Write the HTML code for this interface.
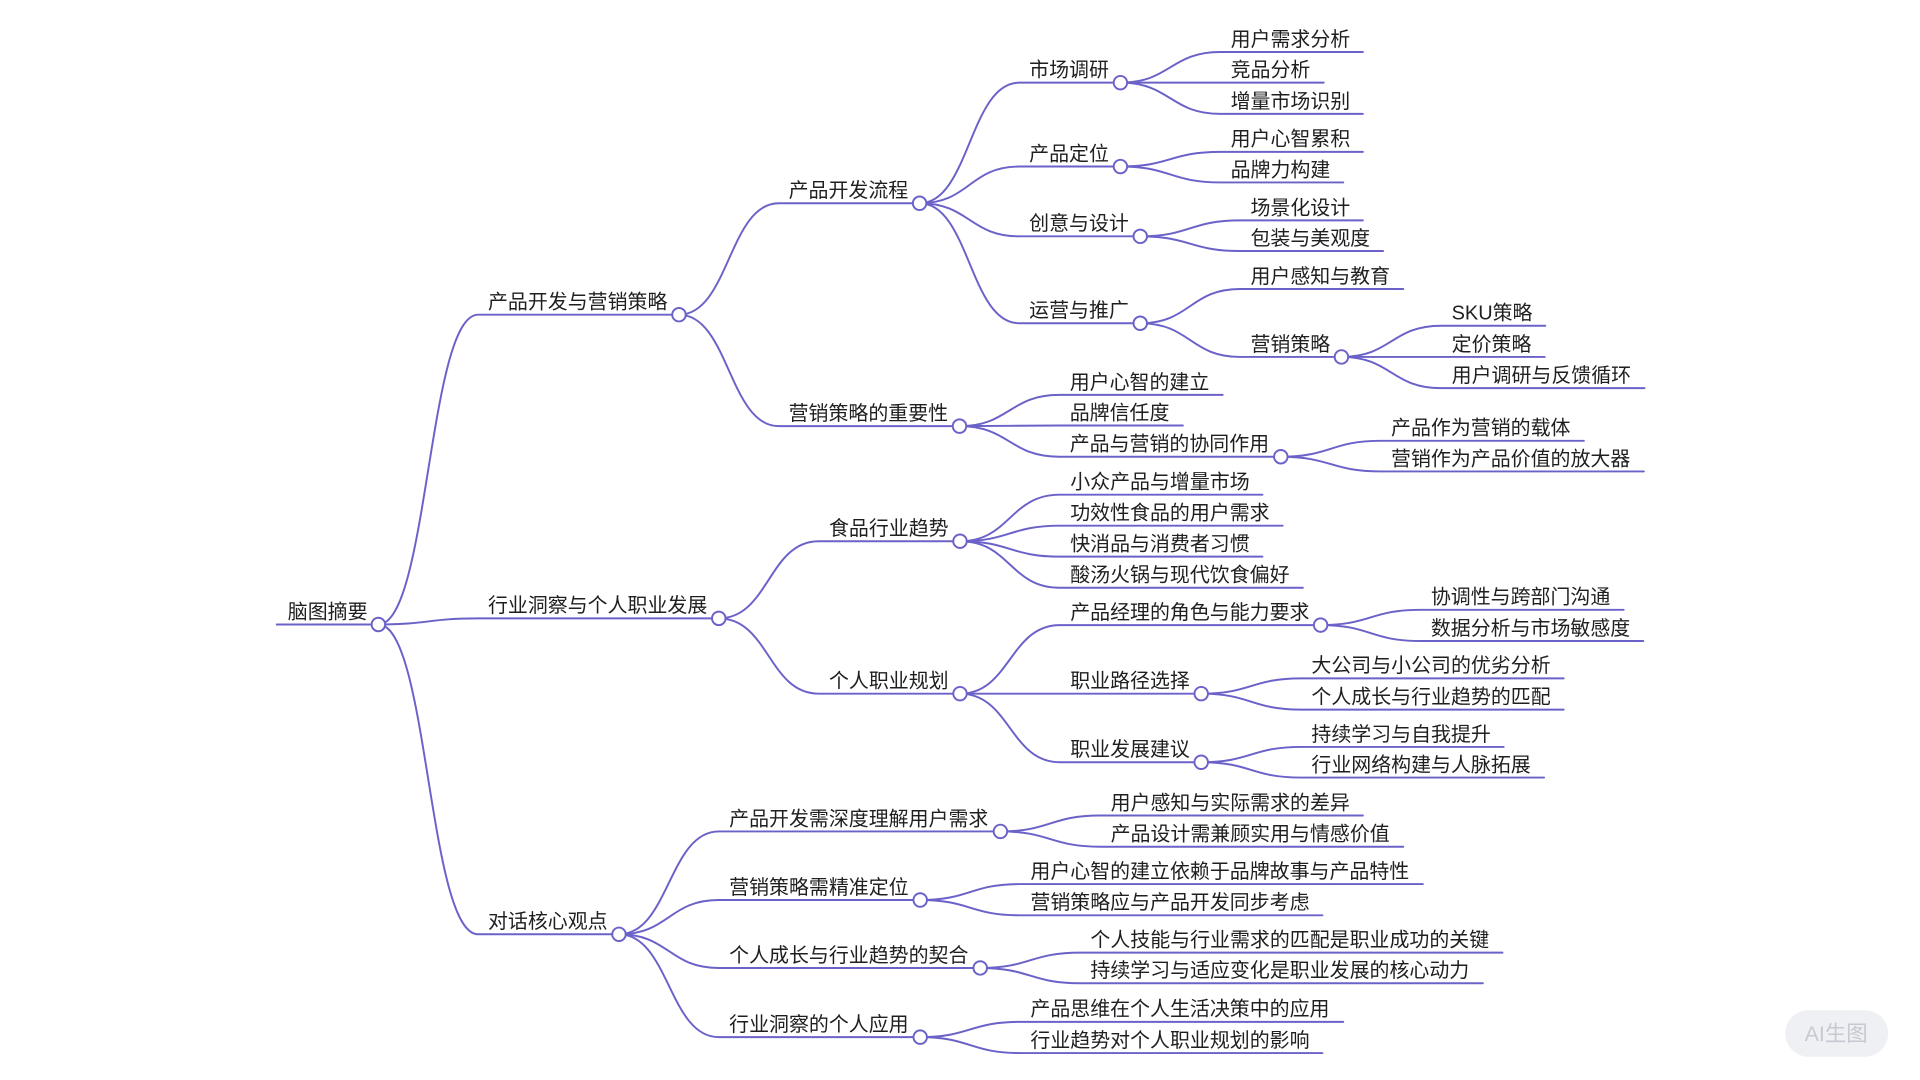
<!DOCTYPE html>
<html><head><meta charset="utf-8"><style>
html,body{margin:0;padding:0;background:#fff;width:1920px;height:1080px;overflow:hidden}
svg{display:block}
text{font-family:"Liberation Sans","Noto Sans CJK SC",sans-serif;font-size:16.3px;fill:#1f1f1f}
path{fill:none;stroke:#6b62c9;stroke-width:1.6;stroke-linecap:round}
circle{fill:#fff;stroke:#6b62c9;stroke-width:1.6}
</style></head><body>
<svg width="1920" height="1080" viewBox="0 0 1568 882" preserveAspectRatio="none" xmlns="http://www.w3.org/2000/svg">
<g>
<path d="M226,510 H309"/>
<path d="M309,510 C349.75,510 349.75,257 390.5,257 H554.5"/>
<path d="M309,510 C349.75,510 349.75,505 390.5,505 H587"/>
<path d="M309,510 C349.75,510 349.75,763 390.5,763 H505.5"/>
<path d="M554.5,257 C595.25,257 595.25,166 636,166 H751"/>
<path d="M554.5,257 C595.25,257 595.25,348 636,348 H783.6"/>
<path d="M751,166 C791.75,166 791.75,67.5 832.5,67.5 H915"/>
<path d="M751,166 C791.75,166 791.75,136 832.5,136 H915"/>
<path d="M751,166 C791.75,166 791.75,193 832.5,193 H931.2"/>
<path d="M751,166 C791.75,166 791.75,264 832.5,264 H931.2"/>
<path d="M915,67.5 C955.75,67.5 955.75,42.5 996.5,42.5 H1113"/>
<path d="M915,67.5 C955.75,67.5 955.75,67.5 996.5,67.5 H1081"/>
<path d="M915,67.5 C955.75,67.5 955.75,93 996.5,93 H1113"/>
<path d="M915,136 C955.75,136 955.75,124 996.5,124 H1113"/>
<path d="M915,136 C955.75,136 955.75,149 996.5,149 H1097"/>
<path d="M931.2,193 C971.95,193 971.95,180 1012.7,180 H1113"/>
<path d="M931.2,193 C971.95,193 971.95,205 1012.7,205 H1129.5"/>
<path d="M931.2,264 C971.95,264 971.95,236 1012.7,236 H1146"/>
<path d="M931.2,264 C971.95,264 971.95,291.5 1012.7,291.5 H1095.5"/>
<path d="M1095.5,291.5 C1136.25,291.5 1136.25,266 1177,266 H1262"/>
<path d="M1095.5,291.5 C1136.25,291.5 1136.25,291.5 1177,291.5 H1261.5"/>
<path d="M1095.5,291.5 C1136.25,291.5 1136.25,317 1177,317 H1343"/>
<path d="M783.6,348 C824.35,348 824.35,322.5 865.1,322.5 H998.5"/>
<path d="M783.6,348 C824.35,348 824.35,347.5 865.1,347.5 H966"/>
<path d="M783.6,348 C824.35,348 824.35,373 865.1,373 H1046"/>
<path d="M1046,373 C1086.75,373 1086.75,360 1127.5,360 H1293.5"/>
<path d="M1046,373 C1086.75,373 1086.75,385 1127.5,385 H1342.5"/>
<path d="M587,505 C627.75,505 627.75,442 668.5,442 H784"/>
<path d="M587,505 C627.75,505 627.75,566.5 668.5,566.5 H784"/>
<path d="M784,442 C824.75,442 824.75,404 865.5,404 H1031"/>
<path d="M784,442 C824.75,442 824.75,429.3 865.5,429.3 H1047.5"/>
<path d="M784,442 C824.75,442 824.75,454.6 865.5,454.6 H1031"/>
<path d="M784,442 C824.75,442 824.75,480 865.5,480 H1064"/>
<path d="M784,566.5 C824.75,566.5 824.75,510.5 865.5,510.5 H1078.5"/>
<path d="M784,566.5 C824.75,566.5 824.75,566.5 865.5,566.5 H981"/>
<path d="M784,566.5 C824.75,566.5 824.75,622.5 865.5,622.5 H981"/>
<path d="M1078.5,510.5 C1119.25,510.5 1119.25,498 1160,498 H1326"/>
<path d="M1078.5,510.5 C1119.25,510.5 1119.25,523.5 1160,523.5 H1342"/>
<path d="M981,566.5 C1021.75,566.5 1021.75,554 1062.5,554 H1277"/>
<path d="M981,566.5 C1021.75,566.5 1021.75,579.5 1062.5,579.5 H1277"/>
<path d="M981,622.5 C1021.75,622.5 1021.75,610 1062.5,610 H1228"/>
<path d="M981,622.5 C1021.75,622.5 1021.75,635 1062.5,635 H1261"/>
<path d="M505.5,763 C546.25,763 546.25,679 587,679 H817"/>
<path d="M505.5,763 C546.25,763 546.25,735 587,735 H751.5"/>
<path d="M505.5,763 C546.25,763 546.25,790.5 587,790.5 H800.5"/>
<path d="M505.5,763 C546.25,763 546.25,847 587,847 H751.5"/>
<path d="M817,679 C857.75,679 857.75,666 898.5,666 H1113"/>
<path d="M817,679 C857.75,679 857.75,691.5 898.5,691.5 H1146"/>
<path d="M751.5,735 C792.25,735 792.25,722 833,722 H1162"/>
<path d="M751.5,735 C792.25,735 792.25,747.5 833,747.5 H1080"/>
<path d="M800.5,790.5 C841.25,790.5 841.25,778 882,778 H1227"/>
<path d="M800.5,790.5 C841.25,790.5 841.25,803 882,803 H1211"/>
<path d="M751.5,847 C792.25,847 792.25,834.5 833,834.5 H1097"/>
<path d="M751.5,847 C792.25,847 792.25,860 833,860 H1080"/>
</g>
<g>
<circle cx="309" cy="510" r="5.5"/>
<circle cx="554.5" cy="257" r="5.5"/>
<circle cx="587" cy="505" r="5.5"/>
<circle cx="505.5" cy="763" r="5.5"/>
<circle cx="751" cy="166" r="5.5"/>
<circle cx="783.6" cy="348" r="5.5"/>
<circle cx="915" cy="67.5" r="5.5"/>
<circle cx="915" cy="136" r="5.5"/>
<circle cx="931.2" cy="193" r="5.5"/>
<circle cx="931.2" cy="264" r="5.5"/>
<circle cx="1095.5" cy="291.5" r="5.5"/>
<circle cx="1046" cy="373" r="5.5"/>
<circle cx="784" cy="442" r="5.5"/>
<circle cx="784" cy="566.5" r="5.5"/>
<circle cx="1078.5" cy="510.5" r="5.5"/>
<circle cx="981" cy="566.5" r="5.5"/>
<circle cx="981" cy="622.5" r="5.5"/>
<circle cx="817" cy="679" r="5.5"/>
<circle cx="751.5" cy="735" r="5.5"/>
<circle cx="800.5" cy="790.5" r="5.5"/>
<circle cx="751.5" cy="847" r="5.5"/>
</g>
<g>
<text x="235" y="505">脑图摘要</text>
<text x="398.5" y="252">产品开发与营销策略</text>
<text x="398.5" y="500">行业洞察与个人职业发展</text>
<text x="398.5" y="758">对话核心观点</text>
<text x="644" y="161">产品开发流程</text>
<text x="644" y="343">营销策略的重要性</text>
<text x="840.5" y="62.5">市场调研</text>
<text x="840.5" y="131">产品定位</text>
<text x="840.5" y="188">创意与设计</text>
<text x="840.5" y="259">运营与推广</text>
<text x="1005" y="37.5">用户需求分析</text>
<text x="1005" y="62.5">竞品分析</text>
<text x="1005" y="88">增量市场识别</text>
<text x="1005" y="119">用户心智累积</text>
<text x="1005" y="144">品牌力构建</text>
<text x="1021.2" y="175">场景化设计</text>
<text x="1021.2" y="200">包装与美观度</text>
<text x="1021.2" y="231">用户感知与教育</text>
<text x="1021.2" y="286.5">营销策略</text>
<text x="1185.5" y="261">SKU策略</text>
<text x="1185.5" y="286.5">定价策略</text>
<text x="1185.5" y="312">用户调研与反馈循环</text>
<text x="873.6" y="317.5">用户心智的建立</text>
<text x="873.6" y="342.5">品牌信任度</text>
<text x="873.6" y="368">产品与营销的协同作用</text>
<text x="1136" y="355">产品作为营销的载体</text>
<text x="1136" y="380">营销作为产品价值的放大器</text>
<text x="677" y="437">食品行业趋势</text>
<text x="677" y="561.5">个人职业规划</text>
<text x="874" y="399">小众产品与增量市场</text>
<text x="874" y="424.3">功效性食品的用户需求</text>
<text x="874" y="449.6">快消品与消费者习惯</text>
<text x="874" y="475">酸汤火锅与现代饮食偏好</text>
<text x="874" y="505.5">产品经理的角色与能力要求</text>
<text x="874" y="561.5">职业路径选择</text>
<text x="874" y="617.5">职业发展建议</text>
<text x="1168.5" y="493">协调性与跨部门沟通</text>
<text x="1168.5" y="518.5">数据分析与市场敏感度</text>
<text x="1071" y="549">大公司与小公司的优劣分析</text>
<text x="1071" y="574.5">个人成长与行业趋势的匹配</text>
<text x="1071" y="605">持续学习与自我提升</text>
<text x="1071" y="630">行业网络构建与人脉拓展</text>
<text x="595.5" y="674">产品开发需深度理解用户需求</text>
<text x="595.5" y="730">营销策略需精准定位</text>
<text x="595.5" y="785.5">个人成长与行业趋势的契合</text>
<text x="595.5" y="842">行业洞察的个人应用</text>
<text x="907" y="661">用户感知与实际需求的差异</text>
<text x="907" y="686.5">产品设计需兼顾实用与情感价值</text>
<text x="841.5" y="717">用户心智的建立依赖于品牌故事与产品特性</text>
<text x="841.5" y="742.5">营销策略应与产品开发同步考虑</text>
<text x="890.5" y="773">个人技能与行业需求的匹配是职业成功的关键</text>
<text x="890.5" y="798">持续学习与适应变化是职业发展的核心动力</text>
<text x="841.5" y="829.5">产品思维在个人生活决策中的应用</text>
<text x="841.5" y="855">行业趋势对个人职业规划的影响</text>
</g>
<rect x="1458" y="825" width="84" height="38" rx="19" ry="19" fill="#eff0f4"/>
<text x="1499.5" y="850" text-anchor="middle" style="font-size:17.5px;fill:#c6c9d1">AI生图</text>
</svg>
</body></html>
